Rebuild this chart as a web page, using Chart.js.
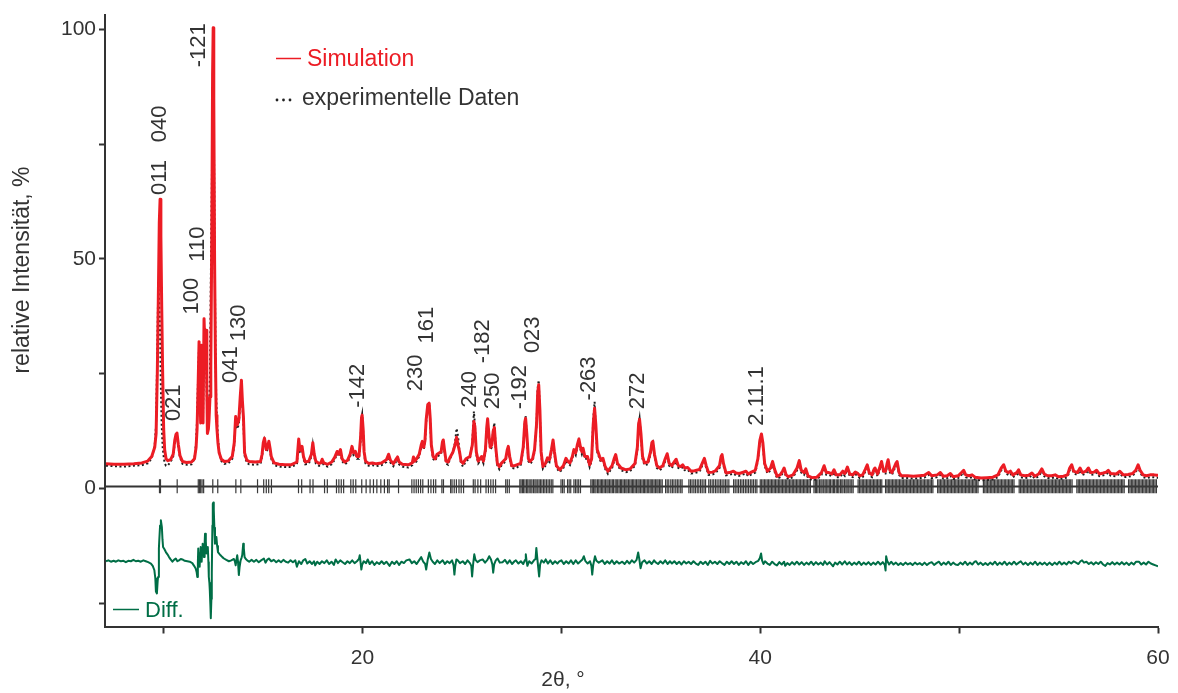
<!DOCTYPE html>
<html>
<head>
<meta charset="utf-8">
<title>Pulverdiffraktogramm</title>
<script src="https://cdn.jsdelivr.net/npm/chart.js@4/dist/chart.umd.min.js"></script>
<style>
  html, body { margin: 0; padding: 0; background: #ffffff; }
  #wrap { width: 1178px; height: 693px; position: relative; }
  canvas { display: block; }
</style>
</head>
<body>
<div id="wrap"><canvas id="xrd" width="1178" height="693"></canvas></div>
<script>
// ---- pattern: 2θ (°) with simulated and measured relative intensity (%) ----
const twoTheta = [
  7.10, 7.50, 8.00, 8.50, 8.90, 9.20, 9.40, 9.55, 9.62, 9.68,
  9.73, 9.78, 9.82, 9.86, 9.90, 9.95, 10.00, 10.05, 10.12, 10.20,
  10.35, 10.48, 10.56, 10.62, 10.67, 10.74, 10.82, 10.95, 11.15, 11.40,
  11.55, 11.63, 11.68, 11.73, 11.78, 11.83, 11.86, 11.91, 11.95, 11.98,
  12.03, 12.08, 12.13, 12.17, 12.20, 12.25, 12.28, 12.33, 12.37, 12.42,
  12.46, 12.49, 12.52, 12.56, 12.60, 12.64, 12.68, 12.73, 12.79, 12.90,
  13.05, 13.25, 13.45, 13.55, 13.62, 13.66, 13.70, 13.78, 13.85, 13.91,
  13.96, 14.01, 14.07, 14.18, 14.30, 14.60, 14.87, 14.95, 15.01, 15.07,
  15.16, 15.22, 15.29, 15.36, 15.41, 15.55, 15.80, 16.10, 16.40, 16.70,
  16.74, 16.79, 16.85, 16.90, 16.96, 17.03, 17.12, 17.30, 17.43, 17.50,
  17.57, 17.65, 17.80, 17.90, 17.97, 18.05, 18.25, 18.45, 18.60, 18.72,
  18.80, 18.89, 18.97, 19.10, 19.25, 19.38, 19.47, 19.55, 19.64, 19.72,
  19.82, 19.90, 19.95, 19.98, 20.03, 20.08, 20.15, 20.30, 20.50, 20.70,
  20.95, 21.20, 21.31, 21.40, 21.55, 21.70, 21.76, 21.84, 22.00, 22.30,
  22.50, 22.56, 22.63, 22.72, 22.85, 22.95, 23.01, 23.08, 23.14, 23.20,
  23.28, 23.35, 23.40, 23.46, 23.55, 23.65, 23.75, 23.95, 24.02, 24.06,
  24.12, 24.20, 24.30, 24.40, 24.55, 24.65, 24.73, 24.80, 24.88, 24.95,
  25.05, 25.20, 25.40, 25.52, 25.60, 25.65, 25.72, 25.82, 25.99, 26.08,
  26.18, 26.25, 26.29, 26.35, 26.42, 26.50, 26.57, 26.63, 26.70, 26.78,
  26.88, 26.98, 27.20, 27.28, 27.33, 27.40, 27.50, 27.65, 27.95, 28.08,
  28.16, 28.20, 28.26, 28.34, 28.42, 28.55, 28.65, 28.75, 28.81, 28.86,
  28.92, 28.98, 29.07, 29.20, 29.30, 29.40, 29.50, 29.58, 29.65, 29.75,
  29.92, 30.10, 30.23, 30.33, 30.43, 30.55, 30.63, 30.72, 30.80, 30.88,
  30.96, 31.03, 31.09, 31.18, 31.31, 31.42, 31.52, 31.60, 31.67, 31.73,
  31.80, 31.92, 32.00, 32.09, 32.20, 32.34, 32.55, 32.65, 32.73, 32.82,
  33.00, 33.25, 33.45, 33.70, 33.82, 33.88, 33.93, 34.00, 34.08, 34.18,
  34.35, 34.48, 34.55, 34.60, 34.68, 34.80, 34.93, 35.10, 35.22, 35.32,
  35.42, 35.55, 35.70, 35.77, 35.88, 36.00, 36.10, 36.20, 36.35, 36.52,
  36.70, 36.95, 37.08, 37.19, 37.28, 37.40, 37.60, 37.75, 37.95, 38.03,
  38.08, 38.15, 38.28, 38.45, 38.65, 38.78, 38.95, 39.15, 39.28, 39.40,
  39.55, 39.75, 39.88, 39.98, 40.06, 40.13, 40.22, 40.36, 40.52, 40.62,
  40.72, 40.85, 41.00, 41.12, 41.20, 41.30, 41.42, 41.65, 41.85, 41.96,
  42.06, 42.20, 42.29, 42.40, 42.60, 42.85, 43.08, 43.21, 43.32, 43.45,
  43.60, 43.71, 43.82, 44.00, 44.15, 44.25, 44.38, 44.50, 44.65, 44.78,
  44.88, 45.00, 45.15, 45.28, 45.38, 45.48, 45.62, 45.72, 45.77, 45.90,
  46.02, 46.10, 46.20, 46.30, 46.38, 46.43, 46.52, 46.62, 46.72, 46.82,
  46.88, 46.98, 47.10, 47.40, 47.70, 48.00, 48.25, 48.47, 48.62, 48.90,
  49.06, 49.20, 49.40, 49.56, 49.70, 49.95, 50.12, 50.23, 50.33, 50.50,
  50.65, 50.80, 51.10, 51.40, 51.70, 51.95, 52.12, 52.24, 52.35, 52.48,
  52.58, 52.70, 52.90, 52.99, 53.10, 53.30, 53.50, 53.66, 53.80, 54.00,
  54.16, 54.28, 54.45, 54.65, 54.83, 55.00, 55.25, 55.45, 55.56, 55.66,
  55.76, 55.95, 56.08, 56.20, 56.38, 56.50, 56.62, 56.78, 56.91, 57.05,
  57.25, 57.40, 57.50, 57.62, 57.90, 58.08, 58.25, 58.50, 58.72, 58.88,
  59.00, 59.10, 59.25, 59.42, 59.60, 59.80, 59.95, 60.00
];

const simulation = [
  5.4, 5.3, 5.3, 5.4, 5.6, 6.0, 7.0, 9.0, 12, 25,
  41, 58, 63, 55, 40, 25, 13, 8.5, 6.5, 6.1,
  6.3, 7.5, 10.6, 11.8, 12.1, 9.5, 7.2, 5.9, 5.7, 5.8,
  6.5, 9, 13, 22, 32, 20, 14.3, 31.2, 20, 14.3,
  37, 30, 34.5, 22, 12, 13, 15, 20, 26.5, 55,
  90, 100.3, 85, 50, 30, 16, 13, 10, 7.8, 6.4,
  5.9, 6.0, 7.0, 10, 15.7, 14.5, 13.9, 15.0, 20, 23.6,
  19, 15.7, 7.8, 6.2, 5.9, 5.8, 5.9, 7.5, 10, 11,
  8.5, 9.0, 10.3, 8.5, 7.0, 5.6, 5.3, 5.2, 5.2, 5.8,
  8.0, 10.8, 8.5, 8.3, 9.2, 7.0, 5.8, 6.0, 7.5, 10.0,
  7.5, 6.0, 5.5, 5.6, 6.4, 5.6, 5.3, 5.8, 6.8, 8.1,
  7.5, 8.5, 6.5, 5.8, 6.2, 7.5, 9.2, 7.8, 8.1, 7.0,
  7.0, 11, 15.5, 16.0, 13, 8, 6.0, 5.5, 5.6, 5.4,
  5.6, 6.3, 7.5, 6.2, 5.4, 6.5, 6.9, 5.8, 5.3, 5.2,
  5.6, 6.9, 6.0, 6.5, 7.5, 9.5, 10.3, 9.0, 10.5, 15,
  18.3, 18.6, 15.5, 9.5, 7.0, 6.5, 7.5, 8.0, 10.2, 10.6,
  8.5, 6.0, 5.8, 6.8, 8.0, 9.5, 11.2, 9.5, 8.0, 6.0,
  5.5, 6.5, 7.0, 9.5, 14.6, 13.5, 8.0, 6.0, 7.0, 6.0,
  8.5, 13.5, 15.2, 12.0, 9.0, 9.5, 12.5, 13.3, 9.0, 5.5,
  4.8, 5.5, 6.5, 8.5, 9.2, 7.0, 5.0, 5.0, 5.5, 9.0,
  14.5, 15.3, 12.0, 6.5, 5.9, 6.5, 8.5, 14, 21, 22.6,
  17, 8, 4.8, 5.5, 6.7, 6.3, 8.5, 10.6, 8.0, 5.0,
  4.1, 5.0, 6.6, 5.9, 5.6, 7.0, 8.5, 7.8, 9.5, 10.8,
  9.0, 8.0, 8.8, 7.0, 7.0, 5.2, 6.5, 14, 17.5, 14,
  8.5, 7.0, 6.2, 6.6, 4.8, 3.8, 5.0, 6.5, 7.4, 5.5,
  4.5, 4.1, 4.3, 5.5, 9.0, 14.0, 15.1, 12, 7.0, 5.6,
  5.8, 8.0, 10.0, 10.3, 7.5, 5.0, 4.5, 5.0, 6.5, 7.6,
  5.5, 5.0, 6.0, 6.4, 5.0, 4.8, 5.2, 4.5, 4.6, 3.8,
  3.9, 4.2, 5.5, 6.6, 5.0, 3.5, 3.6, 3.9, 5.0, 7.0,
  7.4, 5.5, 3.4, 3.5, 3.8, 3.4, 3.3, 3.6, 3.8, 3.2,
  3.6, 4.0, 6.5, 10.5, 11.9, 10.0, 5.5, 3.8, 4.5, 5.9,
  4.2, 2.7, 3.0, 3.8, 4.5, 3.0, 2.6, 3.0, 4.5, 6.1,
  4.0, 3.5, 4.3, 2.8, 2.4, 2.5, 3.5, 5.0, 3.5, 3.5,
  3.2, 4.1, 3.0, 3.0, 3.8, 3.3, 4.7, 3.2, 3.0, 3.6,
  3.4, 2.8, 3.0, 4.2, 5.2, 3.5, 3.0, 4.2, 4.5, 3.2,
  4.8, 5.9, 3.8, 3.8, 5.5, 6.3, 4.0, 3.5, 4.5, 5.5,
  5.9, 3.5, 2.8, 2.8, 2.7, 2.8, 2.9, 3.5, 2.8, 3.0,
  3.5, 2.7, 2.8, 3.3, 2.6, 2.8, 3.5, 4.0, 3.0, 2.8,
  3.0, 2.5, 2.3, 2.4, 2.5, 3.0, 4.5, 5.2, 3.8, 3.5,
  3.8, 3.0, 3.5, 4.1, 3.0, 2.8, 2.9, 3.4, 2.7, 3.2,
  4.3, 3.2, 2.8, 2.8, 3.0, 2.6, 2.7, 3.0, 4.5, 5.2,
  3.8, 3.5, 4.5, 3.5, 3.8, 4.5, 3.5, 3.6, 4.0, 3.2,
  3.4, 3.6, 4.0, 3.3, 3.2, 3.8, 3.0, 3.1, 3.3, 4.0,
  5.2, 4.0, 3.0, 2.8, 3.0, 3.0, 2.9, 2.9
];

const experiment = [
  5.0, 4.9, 4.8, 5.0, 5.1, 5.5, 6.6, 9.5, 14, 30,
  44.7, 40, 34, 22, 14, 9, 7, 5.5, 5.0, 5.0,
  5.8, 7.0, 10.0, 11.0, 11.5, 9.0, 6.8, 5.4, 5.2, 5.3,
  6.5, 10, 15, 24, 31, 20, 16, 29, 20, 16,
  33, 28, 31, 20, 14, 14, 16, 25, 44.7, 65,
  85, 88, 80, 55, 32, 20, 15, 11, 8, 6,
  5.4, 5.5, 6.5, 9.5, 14.8, 13.5, 13.0, 14.0, 19, 22.5,
  18, 14.5, 7.2, 5.6, 5.3, 5.2, 5.4, 7.0, 9.5, 10.5,
  8.0, 8.5, 9.8, 8.0, 6.5, 5.1, 4.8, 4.7, 4.7, 5.3,
  7.5, 10.2, 8.0, 7.8, 8.7, 6.5, 5.3, 5.4, 7.0, 9.5,
  7.0, 5.5, 5.0, 5.0, 5.9, 5.1, 4.8, 5.3, 6.3, 7.6,
  7.0, 8.0, 6.0, 5.3, 5.7, 7.0, 8.7, 7.3, 7.6, 6.5,
  6.5, 10.5, 15.5, 16.2, 12.5, 7.5, 5.5, 5.0, 5.1, 4.9,
  5.1, 5.8, 7.0, 5.7, 4.9, 6.0, 6.4, 5.3, 4.8, 4.6,
  5.1, 6.4, 5.5, 6.0, 7.0, 9.0, 9.8, 8.5, 10.0, 14.5,
  18.0, 18.8, 15.0, 9.0, 6.5, 6.0, 7.0, 7.5, 9.8, 10.4,
  8.0, 5.5, 5.2, 6.5, 8.0, 10.0, 13.1, 11.5, 8.0, 5.5,
  4.8, 6.0, 6.5, 10.0, 16.8, 14, 7.5, 5.5, 6.5, 5.5,
  8.0, 13.0, 15.0, 11.5, 8.5, 9.0, 12.8, 14.3, 8.5, 5.0,
  4.2, 5.0, 6.0, 8.0, 8.7, 6.5, 4.5, 4.4, 5.0, 8.5,
  14.5, 15.8, 11.5, 6.0, 5.4, 6.0, 8.0, 14, 22, 23.6,
  16, 7.5, 4.3, 5.0, 6.2, 5.8, 8.0, 10.2, 7.5, 4.5,
  3.6, 4.5, 6.1, 5.4, 5.1, 6.5, 8.0, 7.3, 9.0, 10.3,
  8.5, 7.5, 8.3, 6.5, 6.5, 4.7, 6.0, 15, 18.9, 13,
  8.0, 6.5, 5.7, 6.1, 4.3, 3.2, 4.5, 6.0, 6.9, 5.0,
  4.0, 3.6, 3.8, 5.0, 8.5, 14.0, 15.3, 11.5, 6.5, 5.1,
  5.3, 7.5, 9.5, 10.0, 7.0, 4.5, 4.0, 4.5, 6.0, 7.3,
  5.0, 4.5, 5.5, 5.9, 4.5, 4.3, 4.7, 4.0, 4.1, 3.3,
  3.4, 3.7, 5.0, 6.2, 4.5, 3.0, 3.1, 3.4, 4.5, 6.6,
  7.0, 5.0, 2.9, 3.0, 3.3, 2.9, 2.8, 3.1, 3.3, 2.7,
  3.1, 3.5, 6.0, 10.2, 11.7, 9.5, 5.0, 3.3, 4.0, 5.5,
  3.7, 2.2, 2.5, 3.3, 4.0, 2.5, 2.1, 2.5, 4.0, 5.6,
  3.5, 3.0, 3.8, 2.3, 1.9, 2.0, 3.0, 4.5, 3.0, 3.0,
  2.7, 3.6, 2.5, 2.5, 3.3, 2.8, 4.2, 2.7, 2.5, 3.1,
  2.9, 2.3, 2.5, 3.7, 4.8, 3.0, 2.5, 3.7, 4.0, 2.7,
  4.3, 5.5, 3.3, 3.3, 5.0, 5.8, 3.5, 3.0, 4.0, 5.0,
  5.4, 3.0, 2.3, 2.3, 2.2, 2.3, 2.4, 3.0, 2.3, 2.5,
  3.0, 2.2, 2.3, 2.8, 2.1, 2.3, 3.0, 3.5, 2.5, 2.3,
  2.5, 2.0, 1.8, 1.9, 2.0, 2.5, 4.0, 4.8, 3.3, 3.0,
  3.3, 2.5, 3.0, 3.6, 2.5, 2.3, 2.4, 2.9, 2.2, 2.7,
  3.8, 2.7, 2.3, 2.3, 2.5, 2.1, 2.2, 2.5, 4.0, 4.8,
  3.3, 3.0, 4.0, 3.0, 3.3, 4.0, 3.0, 3.1, 3.5, 2.7,
  2.9, 3.1, 3.5, 2.8, 2.7, 3.3, 2.5, 2.6, 2.8, 3.5,
  4.8, 3.5, 2.5, 2.3, 2.5, 2.5, 2.4, 2.4
];

// ---- difference curve (experiment − simulation, shifted below the pattern) ----
const difference = [
  [7.10,-15.8],[7.22,-15.6],[7.35,-15.9],[7.48,-15.7],[7.60,-15.9],[7.72,-15.6],[7.85,-15.8],[7.98,-15.7],
  [8.10,-16.0],[8.22,-15.7],[8.35,-15.8],[8.48,-15.5],[8.60,-15.8],[8.72,-15.7],[8.85,-15.9],[8.98,-15.6],
  [9.10,-15.8],[9.22,-16.0],[9.36,-16.3],[9.45,-16.8],[9.53,-17.7],[9.58,-19.5],[9.61,-22.4],[9.66,-22.8],
  [9.70,-20.0],[9.72,-19.2],[9.76,-13.0],[9.78,-11.2],[9.82,-8.0],[9.86,-6.9],[9.91,-8.4],[9.94,-11.0],
  [9.97,-12.7],[10.04,-13.2],[10.11,-13.8],[10.19,-14.3],[10.27,-14.9],[10.35,-15.4],[10.44,-15.9],[10.52,-15.5],
  [10.61,-15.2],[10.69,-15.8],[10.77,-15.6],[10.86,-15.3],[10.94,-15.4],[11.06,-15.7],[11.19,-15.8],[11.31,-15.9],
  [11.44,-16.2],[11.53,-16.8],[11.61,-17.4],[11.66,-18.2],[11.69,-19.2],[11.72,-16.0],[11.74,-13.0],[11.78,-15.5],
  [11.81,-17.0],[11.84,-14.0],[11.86,-12.7],[11.89,-14.5],[11.91,-15.9],[11.94,-13.5],[11.96,-12.0],[12.00,-13.5],
  [12.03,-14.9],[12.06,-12.0],[12.08,-9.8],[12.12,-11.5],[12.15,-14.1],[12.19,-13.0],[12.22,-12.7],[12.25,-16.0],
  [12.27,-19.2],[12.30,-20.5],[12.32,-22.1],[12.35,-25.5],[12.37,-28.2],[12.40,-24.0],[12.42,-18.5],[12.45,-8.0],
  [12.47,-3.3],[12.50,-3.0],[12.52,-4.7],[12.55,-8.5],[12.58,-12.0],[12.62,-11.5],[12.65,-10.5],[12.69,-12.5],
  [12.73,-13.8],[12.80,-14.2],[12.86,-14.5],[12.95,-14.9],[13.03,-15.2],[13.15,-15.5],[13.28,-15.8],[13.40,-15.6],
  [13.53,-15.3],[13.58,-15.8],[13.62,-16.7],[13.66,-15.5],[13.70,-14.5],[13.74,-16.0],[13.78,-18.8],[13.82,-17.0],
  [13.87,-15.6],[13.92,-15.0],[13.95,-14.5],[14.00,-12.0],[14.03,-13.0],[14.07,-14.9],[14.13,-15.3],[14.20,-15.6],
  [14.30,-15.9],[14.42,-15.5],[14.54,-15.9],[14.66,-15.5],[14.78,-16.0],[14.90,-15.6],[15.04,-15.2],[15.12,-16.1],
  [15.20,-15.5],[15.29,-15.2],[15.41,-15.8],[15.54,-15.5],[15.66,-16.0],[15.78,-15.6],[15.90,-16.0],[16.02,-15.5],
  [16.14,-15.9],[16.26,-16.1],[16.38,-15.6],[16.50,-16.0],[16.62,-15.6],[16.70,-17.0],[16.80,-15.8],[16.92,-16.4],
  [17.02,-15.6],[17.12,-15.3],[17.22,-16.3],[17.34,-15.8],[17.46,-16.4],[17.56,-15.8],[17.62,-16.7],[17.72,-15.9],
  [17.84,-16.4],[17.96,-15.8],[18.08,-16.2],[18.20,-15.6],[18.32,-16.4],[18.44,-15.9],[18.56,-16.6],[18.65,-15.4],
  [18.76,-16.2],[18.88,-15.6],[19.00,-16.0],[19.12,-16.4],[19.24,-15.8],[19.36,-16.2],[19.48,-15.6],[19.60,-16.2],
  [19.72,-15.8],[19.82,-15.3],[19.86,-14.5],[19.90,-16.0],[19.94,-17.6],[19.98,-16.6],[20.06,-15.8],[20.18,-16.2],
  [20.26,-15.4],[20.36,-16.4],[20.48,-15.8],[20.60,-16.6],[20.72,-16.0],[20.84,-16.4],[20.96,-15.8],[21.08,-16.4],
  [21.20,-15.9],[21.36,-16.8],[21.48,-15.9],[21.60,-16.4],[21.72,-15.8],[21.84,-16.6],[21.96,-15.9],[22.08,-16.2],
  [22.20,-15.6],[22.36,-15.4],[22.48,-16.2],[22.60,-15.8],[22.72,-16.4],[22.84,-15.6],[22.95,-14.9],[23.05,-15.9],
  [23.15,-16.4],[23.20,-17.6],[23.28,-15.4],[23.36,-13.9],[23.44,-15.3],[23.53,-15.9],[23.64,-16.4],[23.76,-15.6],
  [23.88,-16.2],[24.03,-15.6],[24.14,-16.4],[24.26,-15.8],[24.38,-16.2],[24.50,-15.6],[24.58,-16.7],[24.62,-18.7],
  [24.66,-16.9],[24.72,-15.4],[24.79,-15.6],[24.90,-16.2],[25.04,-15.8],[25.16,-16.4],[25.28,-15.6],[25.40,-16.2],
  [25.47,-16.8],[25.51,-19.1],[25.56,-16.5],[25.62,-14.3],[25.68,-15.5],[25.78,-16.0],[25.90,-15.6],[26.04,-15.4],
  [26.16,-16.1],[26.28,-15.5],[26.37,-14.7],[26.46,-15.4],[26.53,-16.5],[26.57,-18.3],[26.62,-16.5],[26.70,-15.6],
  [26.79,-15.2],[26.90,-16.1],[27.04,-16.0],[27.16,-15.5],[27.28,-16.3],[27.40,-15.6],[27.52,-16.4],[27.64,-15.8],
  [27.71,-15.6],[27.84,-16.3],[27.96,-15.8],[28.08,-16.4],[28.17,-15.5],[28.21,-14.3],[28.25,-15.8],[28.29,-16.8],
  [28.38,-15.8],[28.50,-16.3],[28.62,-15.6],[28.70,-15.3],[28.74,-12.9],[28.78,-14.8],[28.84,-17.4],[28.88,-19.1],
  [28.93,-16.5],[29.00,-15.6],[29.12,-16.1],[29.21,-15.4],[29.32,-16.3],[29.44,-15.6],[29.56,-16.4],[29.68,-15.8],
  [29.80,-16.3],[29.88,-15.9],[30.00,-15.6],[30.12,-16.4],[30.24,-15.8],[30.36,-16.3],[30.48,-15.6],[30.60,-16.4],
  [30.72,-15.6],[30.84,-16.3],[30.96,-15.8],[31.06,-15.4],[31.13,-14.7],[31.20,-15.7],[31.32,-16.3],[31.44,-15.8],
  [31.51,-16.8],[31.55,-18.7],[31.60,-16.6],[31.69,-14.7],[31.76,-15.7],[31.88,-16.1],[32.06,-15.6],[32.18,-16.4],
  [32.30,-15.8],[32.42,-16.3],[32.54,-15.6],[32.66,-16.4],[32.78,-15.8],[32.90,-16.3],[33.06,-15.9],[33.18,-16.4],
  [33.30,-15.7],[33.42,-16.3],[33.54,-15.6],[33.66,-16.1],[33.78,-15.5],[33.86,-13.9],[33.92,-15.4],[33.98,-17.3],
  [34.06,-16.0],[34.18,-15.6],[34.30,-16.3],[34.42,-15.8],[34.54,-16.4],[34.66,-15.6],[34.73,-16.0],[34.86,-16.4],
  [34.98,-15.8],[35.10,-16.3],[35.22,-15.6],[35.34,-16.4],[35.46,-15.8],[35.56,-16.3],[35.68,-15.8],[35.80,-16.4],
  [35.92,-15.9],[36.04,-16.5],[36.16,-15.8],[36.28,-16.3],[36.40,-15.9],[36.52,-16.4],[36.64,-15.8],[36.76,-16.3],
  [36.88,-16.6],[37.00,-15.9],[37.12,-16.4],[37.24,-15.9],[37.36,-16.6],[37.48,-15.7],[37.60,-16.3],[37.72,-15.9],
  [37.84,-16.4],[37.96,-15.8],[38.07,-16.2],[38.20,-16.6],[38.32,-15.9],[38.44,-16.4],[38.56,-15.8],[38.68,-16.4],
  [38.80,-15.9],[38.92,-16.6],[39.04,-16.0],[39.16,-16.4],[39.28,-15.8],[39.40,-16.6],[39.52,-15.9],[39.64,-16.4],
  [39.76,-16.0],[39.90,-15.7],[39.98,-15.1],[40.04,-14.1],[40.09,-15.6],[40.16,-16.4],[40.24,-15.8],[40.36,-16.3],
  [40.48,-16.6],[40.60,-15.9],[40.72,-16.4],[40.84,-16.7],[40.96,-16.0],[41.08,-16.5],[41.20,-15.9],[41.25,-16.8],
  [41.36,-16.2],[41.48,-16.6],[41.60,-16.0],[41.72,-16.5],[41.84,-15.9],[41.96,-16.5],[42.08,-16.0],[42.20,-16.6],
  [42.32,-16.1],[42.44,-16.5],[42.56,-15.9],[42.68,-16.6],[42.80,-16.0],[42.92,-16.5],[43.04,-16.1],[43.16,-16.6],
  [43.24,-15.8],[43.36,-16.5],[43.48,-16.0],[43.60,-16.6],[43.66,-16.9],[43.76,-16.1],[43.88,-16.5],[44.00,-15.9],
  [44.12,-16.5],[44.25,-15.8],[44.36,-16.5],[44.48,-16.0],[44.60,-16.6],[44.72,-16.1],[44.84,-16.5],[44.96,-15.9],
  [45.08,-16.6],[45.20,-16.1],[45.32,-16.5],[45.44,-16.0],[45.56,-16.6],[45.68,-16.1],[45.80,-16.5],[45.92,-15.9],
  [46.04,-16.5],[46.16,-16.0],[46.26,-16.6],[46.30,-17.8],[46.33,-14.7],[46.38,-15.7],[46.48,-16.5],[46.58,-15.9],
  [46.70,-16.5],[46.82,-16.1],[46.94,-16.6],[47.06,-16.2],[47.18,-16.6],[47.30,-16.1],[47.42,-16.5],[47.54,-16.2],
  [47.66,-16.6],[47.78,-16.1],[47.90,-16.5],[48.02,-16.2],[48.14,-16.6],[48.26,-16.1],[48.38,-16.6],[48.50,-16.2],
  [48.62,-16.0],[48.74,-16.6],[48.86,-16.2],[48.98,-15.9],[49.10,-16.6],[49.22,-16.1],[49.34,-16.5],[49.46,-15.9],
  [49.58,-16.6],[49.70,-16.1],[49.82,-16.5],[49.94,-16.6],[50.06,-16.1],[50.18,-16.5],[50.30,-15.9],[50.42,-16.6],
  [50.54,-16.1],[50.66,-16.5],[50.78,-15.9],[50.85,-15.8],[50.96,-16.5],[51.08,-16.1],[51.20,-16.6],[51.32,-16.2],
  [51.44,-16.6],[51.56,-16.1],[51.68,-16.5],[51.80,-15.9],[51.92,-16.6],[52.04,-16.1],[52.16,-16.5],[52.28,-15.9],
  [52.40,-16.6],[52.52,-16.1],[52.64,-16.5],[52.76,-15.9],[52.88,-16.5],[53.00,-16.1],[53.10,-15.8],[53.22,-16.5],
  [53.34,-16.1],[53.46,-16.6],[53.58,-16.1],[53.70,-16.5],[53.82,-15.9],[53.94,-16.6],[54.06,-16.1],[54.18,-16.5],
  [54.30,-16.1],[54.42,-16.6],[54.54,-16.1],[54.68,-16.6],[54.80,-16.1],[54.92,-16.5],[55.04,-15.9],[55.16,-16.5],
  [55.28,-16.1],[55.40,-16.5],[55.52,-15.9],[55.64,-16.3],[55.76,-15.8],[55.88,-16.1],[56.00,-16.4],[56.10,-15.8],
  [56.18,-15.6],[56.28,-16.1],[56.40,-15.9],[56.52,-16.4],[56.64,-16.0],[56.76,-16.5],[56.88,-16.0],[57.00,-16.4],
  [57.12,-15.9],[57.24,-16.5],[57.35,-16.8],[57.46,-16.2],[57.58,-16.5],[57.70,-16.0],[57.82,-16.5],[57.94,-16.1],
  [58.06,-16.5],[58.18,-16.0],[58.30,-16.5],[58.42,-16.1],[58.54,-16.6],[58.66,-16.1],[58.78,-16.5],[58.90,-15.9],
  [59.04,-15.9],[59.16,-16.5],[59.28,-16.1],[59.40,-16.5],[59.52,-15.9],[59.64,-16.3],[59.76,-16.5],[59.88,-16.7],
  [60.00,-16.9]
];

// ---- calculated reflection positions (2θ, °) ----
const reflections = [
  9.79, 9.84, 10.68, 11.74, 11.80, 11.86, 11.93, 12.01, 12.47, 12.72, 13.63, 13.88, 14.72,
  15.03, 15.16, 15.28, 15.42, 16.78, 16.94, 17.36, 17.51, 18.09, 18.23, 18.69, 18.81, 18.93, 19.05,
  19.41, 19.53, 19.66, 19.96, 20.18, 20.38, 20.55, 20.72, 20.92, 21.10, 21.26, 21.34, 21.81,
  22.48, 22.59, 22.70, 22.81, 22.92, 23.03, 23.31, 23.44, 23.57, 23.68, 23.99, 24.07,
  24.43, 24.50, 24.61, 24.72, 24.85, 24.96, 25.08, 25.57, 25.66, 25.80, 25.94,
  26.21, 26.33, 26.45, 26.57, 26.69, 27.20, 27.28, 27.38,
  27.91, 27.97, 28.04, 28.10, 28.17, 28.25, 28.31, 28.38, 28.46, 28.52, 28.60, 28.67, 28.73,
  28.81, 28.88, 28.95, 29.02, 29.10, 29.17, 29.25, 29.33, 29.41, 29.49, 29.57,
  29.98, 30.06, 30.14, 30.31, 30.39, 30.47, 30.63, 30.71, 30.79, 30.87, 30.96,
  31.48, 31.55, 31.61, 31.68, 31.74, 31.82, 31.88, 31.95, 32.02, 32.08, 32.15, 32.22, 32.29,
  32.35, 32.42, 32.49, 32.56, 32.62, 32.70, 32.76, 32.83, 32.90, 32.97, 33.03, 33.10, 33.17,
  33.24, 33.30, 33.37, 33.44, 33.51, 33.58, 33.64, 33.71, 33.78, 33.85, 33.91, 33.98, 34.05,
  34.12, 34.18, 34.25, 34.32, 34.39, 34.46, 34.52, 34.59, 34.66, 34.73, 34.80, 34.86, 34.93,
  35.00, 35.07, 35.24, 35.32, 35.40, 35.50, 35.58, 35.66, 35.75, 35.83, 35.91, 36.00, 36.07,
  36.41, 36.49, 36.57, 36.66, 36.74, 36.83, 36.91, 37.00, 37.08, 37.17, 37.25,
  37.41, 37.49, 37.58, 37.66, 37.75, 37.83, 37.92, 38.00, 38.08, 38.17, 38.25, 38.33, 38.42,
  38.66, 38.74, 38.83, 38.91, 39.00, 39.08, 39.16, 39.25, 39.33, 39.41, 39.50, 39.58, 39.66,
  39.75, 39.83, 40.00, 40.07, 40.14, 40.21, 40.28, 40.35, 40.42, 40.49, 40.56, 40.63, 40.70,
  40.77, 40.84, 40.91, 40.98, 41.05, 41.12, 41.19, 41.26, 41.33, 41.40, 41.47, 41.54, 41.61,
  41.68, 41.75, 41.82, 41.89, 41.96, 42.03, 42.10, 42.17, 42.24, 42.31, 42.38, 42.45, 42.52,
  42.70, 42.77, 42.83, 42.90, 42.98, 43.05, 43.11, 43.19, 43.26, 43.32, 43.40, 43.47, 43.53,
  43.61, 43.68, 43.74, 43.82, 43.89, 43.95, 44.03, 44.10, 44.16, 44.24, 44.31, 44.37, 44.45,
  44.52, 44.60, 44.67, 44.92, 44.99, 45.06, 45.13, 45.20, 45.27, 45.34, 45.41, 45.48, 45.55,
  45.62, 45.69, 45.76, 45.83, 45.90, 45.97, 46.04, 46.11, 46.30, 46.37, 46.44, 46.51, 46.58,
  46.65, 46.72, 46.79, 46.86, 46.93, 47.00, 47.07, 47.14, 47.21, 47.28, 47.35, 47.42, 47.49,
  47.56, 47.63, 47.70, 47.77, 47.84, 47.91, 47.98, 48.05, 48.12, 48.19, 48.26, 48.33, 48.40,
  48.47, 48.54, 48.61, 48.68, 48.92, 48.99, 49.06, 49.13, 49.20, 49.27, 49.34, 49.41, 49.48,
  49.55, 49.62, 49.69, 49.76, 49.83, 49.90, 49.97, 50.04, 50.11, 50.18, 50.25, 50.32, 50.39,
  50.46, 50.53, 50.60, 50.67, 50.74, 50.81, 50.88, 50.95, 51.22, 51.29, 51.36, 51.43, 51.50,
  51.57, 51.64, 51.71, 51.78, 51.85, 51.92, 51.99, 52.06, 52.13, 52.20, 52.27, 52.34, 52.41,
  52.48, 52.55, 52.62, 52.69, 52.76, 53.02, 53.09, 53.16, 53.23, 53.30, 53.37, 53.44, 53.51,
  53.58, 53.65, 53.72, 53.79, 53.86, 53.93, 54.00, 54.07, 54.14, 54.21, 54.28, 54.35, 54.42,
  54.49, 54.56, 54.63, 54.70, 54.77, 54.84, 54.91, 54.98, 55.05, 55.12, 55.19, 55.26, 55.33,
  55.40, 55.47, 55.54, 55.61, 55.68, 55.92, 55.99, 56.06, 56.13, 56.20, 56.27, 56.34, 56.41,
  56.48, 56.55, 56.62, 56.69, 56.76, 56.83, 56.90, 56.97, 57.04, 57.11, 57.18, 57.25, 57.32,
  57.39, 57.46, 57.53, 57.60, 57.67, 57.74, 57.81, 57.88, 57.95, 58.02, 58.09, 58.16, 58.23,
  58.30, 58.52, 58.59, 58.66, 58.73, 58.80, 58.87, 58.94, 59.01, 59.08, 59.15, 59.22, 59.29,
  59.36, 59.43, 59.50, 59.57, 59.64, 59.71, 59.78, 59.85, 59.92
];

// ---- Miller indices written above the strongest reflections ----
const peakLabels = ['011', '040', '021', '100', '110', '-121', '041', '130', '-142', '230',
                    '161', '240', '-182', '250', '-192', '023', '-263', '272', '2.11.1'];
const labelTheta = [9.82, 9.82, 10.51, 11.40, 11.70, 11.78, 13.37, 13.78, 19.75, 22.70,
                    23.23, 25.40, 26.07, 26.56, 27.91, 28.56, 31.37, 33.83, 39.81];
const labelLevel = [63.9, 75.4, 14.7, 37.9, 49.4, 91.7, 23.0, 32.1, 17.6, 21.2,
                    31.6, 17.6, 27.3, 17.3, 17.3, 29.5, 19.2, 17.3, 13.7];

// ---- axes ----
const xTickValues = [10, 20, 30, 40, 50, 60];
const xTickLabels = [20, 40, 60];
const yTickValues = [-25, 0, 25, 50, 75, 100];
const yTickLabels = [0, 50, 100];

const X_MIN = 7.05, X_MAX = 60, Y_MIN = -30, Y_MAX = 103;
const REFLEX_LEVEL = 0.5;

const RED = '#ec1c24';
const GREEN = '#006e46';
const INK = '#333333';
const FONT = "'Liberation Sans', Arial, Helvetica, sans-serif";

const overlay = {
  id: 'overlay',
  beforeDatasetsDraw(chart) {
    const { ctx, chartArea, scales } = chart;
    const yb = Math.round(scales.y.getPixelForValue(REFLEX_LEVEL)) + 0.5;
    ctx.save();
    ctx.strokeStyle = INK;
    ctx.lineWidth = 2;
    ctx.beginPath();
    ctx.moveTo(chartArea.left, yb);
    ctx.lineTo(chartArea.right, yb);
    ctx.stroke();
    ctx.restore();
  },
  afterDraw(chart) {
    const { ctx, scales } = chart;
    ctx.save();

    // hkl labels, rotated to read upwards
    ctx.fillStyle = INK;
    ctx.font = '22px ' + FONT;
    ctx.textAlign = 'left';
    ctx.textBaseline = 'middle';
    peakLabels.forEach((txt, i) => {
      ctx.save();
      ctx.translate(scales.x.getPixelForValue(labelTheta[i]), scales.y.getPixelForValue(labelLevel[i]));
      ctx.rotate(-Math.PI / 2);
      ctx.fillText(txt, 0, 0);
      ctx.restore();
    });

    // legend: simulation / measurement
    ctx.font = '23px ' + FONT;
    ctx.textBaseline = 'alphabetic';
    ctx.strokeStyle = RED;
    ctx.lineWidth = 1.5;
    ctx.beginPath(); ctx.moveTo(276, 58.5); ctx.lineTo(301, 58.5); ctx.stroke();
    ctx.fillStyle = RED;
    ctx.fillText('Simulation', 307, 66);

    ctx.fillStyle = '#222';
    [277, 283.5, 290].forEach(px => { ctx.beginPath(); ctx.arc(px, 100, 1.4, 0, Math.PI * 2); ctx.fill(); });
    ctx.fillStyle = INK;
    ctx.fillText('experimentelle Daten', 302, 105);

    // legend: difference curve
    ctx.font = '22px ' + FONT;
    ctx.strokeStyle = GREEN;
    ctx.lineWidth = 1.5;
    ctx.beginPath(); ctx.moveTo(113, 609.5); ctx.lineTo(139, 609.5); ctx.stroke();
    ctx.fillStyle = GREEN;
    ctx.fillText('Diff.', 145, 617);

    // axis titles
    ctx.fillStyle = INK;
    ctx.textAlign = 'center';
    ctx.textBaseline = 'middle';
    ctx.font = '21px ' + FONT;
    ctx.fillText('2θ, °', 563, 680);
    ctx.font = '23px ' + FONT;
    ctx.save();
    ctx.translate(23, 270);
    ctx.rotate(-Math.PI / 2);
    ctx.fillText('relative Intensität, %', 0, 0);
    ctx.restore();

    ctx.restore();
  }
};

const asPoints = values => twoTheta.map((t, i) => ({ x: t, y: values[i] }));

new Chart(document.getElementById('xrd'), {
  type: 'scatter',
  data: {
    datasets: [
      {
        label: 'Simulation',
        data: asPoints(simulation),
        showLine: true, borderColor: RED, borderWidth: 3,
        borderJoinStyle: 'round', pointRadius: 0, order: 1
      },
      {
        label: 'experimentelle Daten',
        data: asPoints(experiment),
        showLine: true, borderColor: '#1e1e1e', borderWidth: 2,
        borderDash: [2, 2.5], pointRadius: 0, order: 2
      },
      {
        label: 'Reflexe',
        data: reflections.map(t => ({ x: t, y: REFLEX_LEVEL })),
        showLine: false, pointStyle: 'line', pointRotation: 90, pointRadius: 7,
        pointBorderColor: '#3a3a3a', pointBorderWidth: 1.2, pointBackgroundColor: '#3a3a3a',
        order: 3
      },
      {
        label: 'Diff.',
        data: difference.map(([t, v]) => ({ x: t, y: v })),
        showLine: true, borderColor: GREEN, borderWidth: 2,
        borderJoinStyle: 'round', pointRadius: 0, order: 4
      }
    ]
  },
  options: {
    responsive: false,
    animation: false,
    devicePixelRatio: 1,
    events: [],
    layout: { padding: { left: 0, right: 20, top: 15.4, bottom: 0 } },
    plugins: { legend: { display: false }, tooltip: { enabled: false } },
    scales: {
      x: {
        type: 'linear', min: X_MIN, max: X_MAX,
        afterBuildTicks: s => { s.ticks = xTickValues.map(v => ({ value: v })); },
        afterFit: s => { s.height = 66.5; s.paddingLeft = 0; s.paddingRight = 0; },
        ticks: {
          callback: v => (xTickLabels.includes(v) ? String(v) : ''),
          color: INK, font: { family: FONT, size: 21 }, padding: 12,
          maxRotation: 0, autoSkip: false
        },
        grid: { display: true, drawOnChartArea: false, drawTicks: true, tickLength: 7, tickWidth: 2, tickColor: INK },
        border: { display: true, color: INK, width: 2 }
      },
      y: {
        type: 'linear', min: Y_MIN, max: Y_MAX,
        afterBuildTicks: s => { s.ticks = yTickValues.map(v => ({ value: v })); },
        afterFit: s => { s.width = 105; s.paddingTop = 0; s.paddingBottom = 0; },
        ticks: {
          callback: v => (yTickLabels.includes(v) ? String(v) : ''),
          color: INK, font: { family: FONT, size: 21 }, padding: 3, autoSkip: false
        },
        grid: { display: true, drawOnChartArea: false, drawTicks: true, tickLength: 6, tickWidth: 2, tickColor: INK },
        border: { display: true, color: INK, width: 2 }
      }
    }
  },
  plugins: [overlay]
});
</script>
</body>
</html>
